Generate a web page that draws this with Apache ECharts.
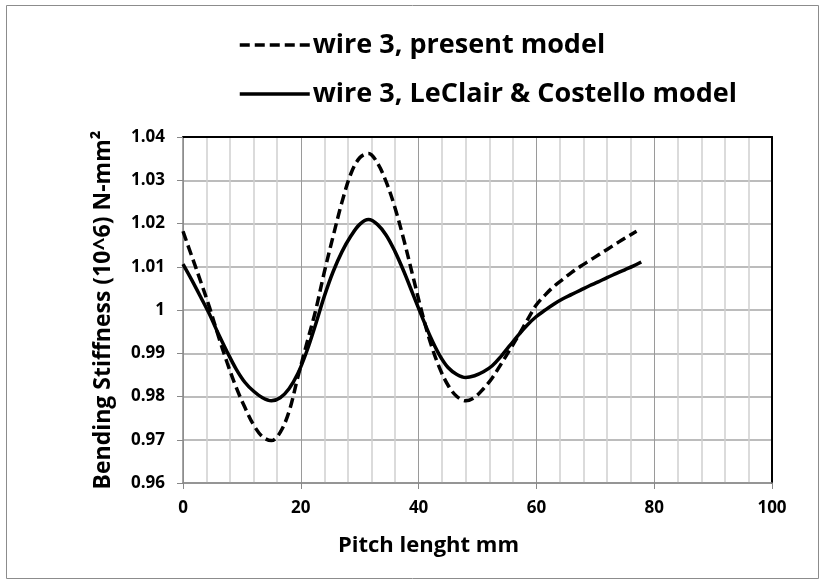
<!DOCTYPE html>
<html>
<head>
<meta charset="utf-8">
<script src="https://cdn.jsdelivr.net/npm/echarts@6/dist/echarts.min.js"></script>
<style>
html,body{margin:0;padding:0;background:#fff;}
#chart{width:820px;height:579px;}
</style>
</head>
<body>
<div id="chart"></div>
<script>
// ---- data ----
var seriesNames = ['wire 3, present model', 'wire 3, LeClair & Costello model'];

var presentX = [0, 1.5, 3, 4.5, 6, 7.5, 9, 10.5, 12, 13.5, 15, 16.5, 18, 19.5, 21, 22.5, 24, 25.5, 27, 28.5, 30, 31.5, 33, 34.5, 36, 37.5, 39, 40.5, 42, 43.5, 45, 46.5, 48, 49.5, 51, 52.5, 54, 55.5, 57, 58.5, 60, 61.5, 63, 64.5, 66, 67.5, 69, 70.5, 72, 73.5, 75, 77];
var presentY = [1.0182, 1.0124, 1.0066, 1.0006, 0.9940, 0.9878, 0.9822, 0.9775, 0.9734, 0.9707, 0.9698, 0.9717, 0.9765, 0.9845, 0.9922, 0.9998, 1.0088, 1.0171, 1.0250, 1.0315, 1.0352, 1.0362, 1.0340, 1.0296, 1.0236, 1.0162, 1.0080, 0.9998, 0.9925, 0.9868, 0.9826, 0.9800, 0.9790, 0.9798, 0.9818, 0.9843, 0.9875, 0.9908, 0.9942, 0.9978, 1.0012, 1.0035, 1.0055, 1.0071, 1.0087, 1.0101, 1.0114, 1.0127, 1.0140, 1.0153, 1.0166, 1.0182];

var leclairX = [0, 1.5, 3, 4.5, 6, 7.5, 9, 10.5, 12, 13.5, 15, 16.5, 18, 19.5, 21, 22.5, 24, 25.5, 27, 28.5, 30, 31.5, 33, 34.5, 36, 37.5, 39, 40.5, 42, 43.5, 45, 46.5, 48, 49.5, 51, 52.5, 54, 55.5, 57, 58.5, 60, 61.5, 63, 64.5, 66, 67.5, 69, 70.5, 72, 73.5, 75, 76.5, 77.8];
var leclairY = [1.0106, 1.0069, 1.0030, 0.9990, 0.9945, 0.9903, 0.9864, 0.9833, 0.9812, 0.9797, 0.9790, 0.9797, 0.9818, 0.9853, 0.9904, 0.9966, 1.0032, 1.0089, 1.0135, 1.0171, 1.0198, 1.0209, 1.0198, 1.0173, 1.0135, 1.0089, 1.0038, 0.9987, 0.9938, 0.9897, 0.9867, 0.9851, 0.9844, 0.9848, 0.9857, 0.9871, 0.9893, 0.9918, 0.9943, 0.9966, 0.9985, 1.0000, 1.0014, 1.0026, 1.0036, 1.0046, 1.0056, 1.0065, 1.0075, 1.0084, 1.0093, 1.0102, 1.0111];

var xTicks = [0, 20, 40, 60, 80, 100];
var yTicks = [0.96, 0.97, 0.98, 0.99, 1, 1.01, 1.02, 1.03, 1.04];
var xTitle = 'Pitch lenght mm';
var yTitle = 'Bending Stiffness (10^6) N-mm\u00B2';

function pairs(xs, ys) { return xs.map(function (x, i) { return [x, ys[i]]; }); }

var FONT = '"Open Sans", sans-serif';
var chart = echarts.init(document.getElementById('chart'), null, {renderer: 'canvas'});
chart.setOption({
  animation: false,
  backgroundColor: '#fff',
  graphic: [{
    type: 'rect', left: 4, top: 3, z: -10, silent: true,
    shape: {width: 812, height: 573},
    style: {fill: 'none', stroke: '#8c8c8c', lineWidth: 1}
  }],
  legend: {
    orient: 'vertical',
    left: 233, top: 25,
    itemWidth: 70, itemHeight: 14, itemGap: 19,
    itemStyle: {opacity: 0},
    lineStyle: {width: 3.5},
    textStyle: {fontFamily: FONT, fontWeight: 'bold', fontSize: 27, lineHeight: 30, color: '#000', padding: [0, 0, 0, -2]},
    data: seriesNames
  },
  grid: {left: 183, right: 48, top: 137, bottom: 96, containLabel: false},
  xAxis: [{
    type: 'value', min: xTicks[0], max: xTicks[xTicks.length - 1], interval: 20,
    name: xTitle, nameLocation: 'middle', nameGap: 52,
    nameTextStyle: {fontFamily: FONT, fontWeight: 'bold', fontSize: 22, color: '#000', padding: [0, 98, 0, 0]},
    axisLine: {show: true, lineStyle: {color: '#888', width: 1.5}},
    axisTick: {show: true, length: 6, lineStyle: {color: '#888'}},
    axisLabel: {fontFamily: FONT, fontWeight: 'bold', fontSize: 17, color: '#000', margin: 17},
    splitLine: {show: true, lineStyle: {color: '#9a9a9a', width: 1}},
    minorTick: {show: false, splitNumber: 5},
    minorSplitLine: {show: true, lineStyle: {color: '#cfcfcf', width: 1.5}}
  }, {
    type: 'value', position: 'top', min: 0, max: 100,
    axisLine: {show: true, onZero: false, lineStyle: {color: '#000', width: 2}},
    axisTick: {show: false}, axisLabel: {show: false}, splitLine: {show: false}
  }],
  yAxis: [{
    type: 'value', min: yTicks[0], max: yTicks[yTicks.length - 1], interval: 0.01,
    name: yTitle, nameLocation: 'middle', nameGap: 68, nameRotate: 90,
    nameTextStyle: {fontFamily: FONT, fontWeight: 'bold', fontSize: 23, color: '#000'},
    axisLine: {show: true, lineStyle: {color: '#888', width: 1.5}},
    axisTick: {show: true, length: 6, lineStyle: {color: '#888'}},
    axisLabel: {fontFamily: FONT, fontWeight: 'bold', fontSize: 17, color: '#000', margin: 18,
      formatter: function (v) { return String(Number(v.toFixed(2))); }},
    splitLine: {show: true, lineStyle: {color: '#a6a6a6', width: 1.5}}
  }, {
    type: 'value', position: 'right', min: yTicks[0], max: yTicks[yTicks.length - 1],
    axisLine: {show: true, onZero: false, lineStyle: {color: '#000', width: 2}},
    axisTick: {show: false}, axisLabel: {show: false}, splitLine: {show: false}
  }],
  series: [{
    name: seriesNames[0], type: 'line', smooth: 0.35, showSymbol: false, symbol: 'none',
    data: pairs(presentX, presentY),
    lineStyle: {color: '#000', width: 3.5, type: [10, 5]},
    itemStyle: {color: '#000'}, z: 3
  }, {
    name: seriesNames[1], type: 'line', smooth: 0.35, showSymbol: false, symbol: 'none',
    data: pairs(leclairX, leclairY),
    lineStyle: {color: '#000', width: 3.5, type: 'solid'},
    itemStyle: {color: '#000'}, z: 4
  }]
});
</script>
</body>
</html>
